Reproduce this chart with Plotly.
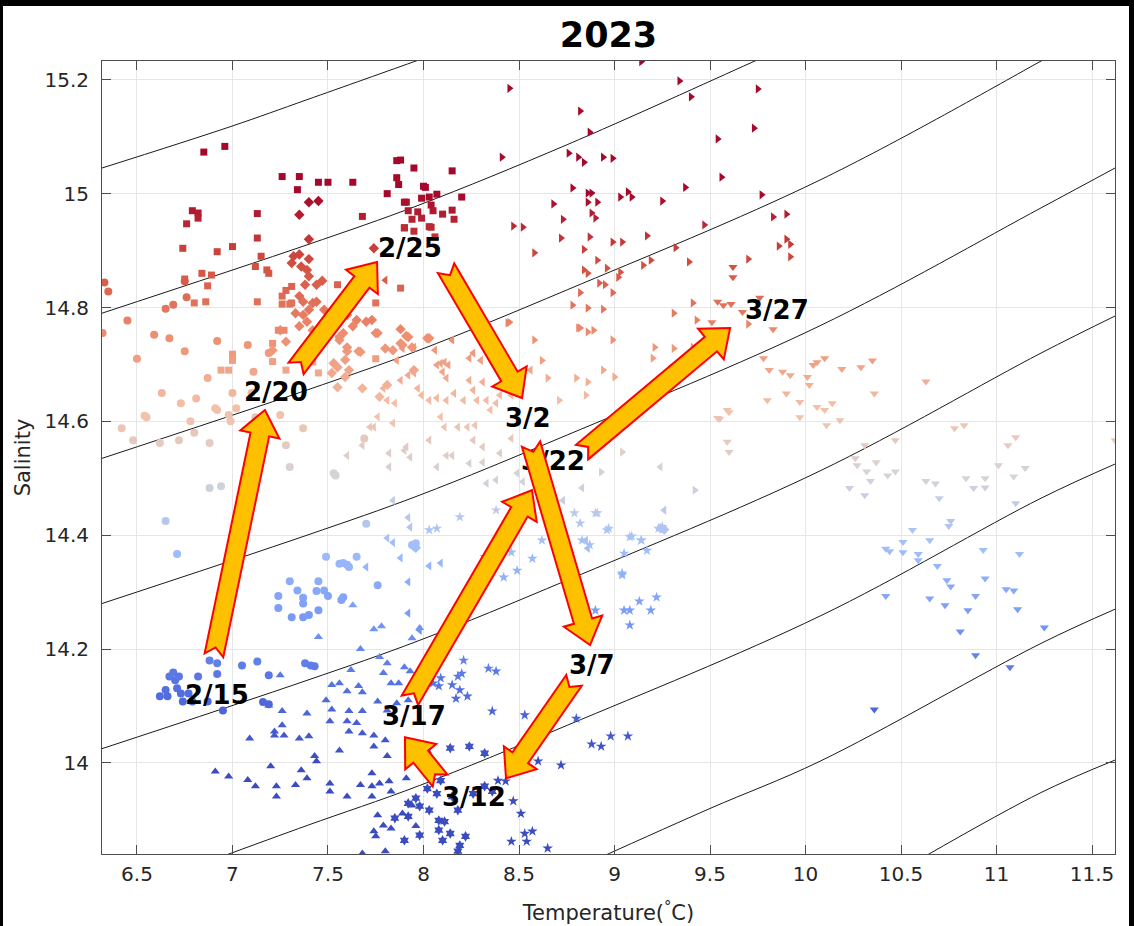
import plotly.graph_objects as go

# ---------------- axis ticks ----------------
x_ticks = [6.5, 7, 7.5, 8, 8.5, 9, 9.5, 10, 10.5, 11, 11.5]
x_ticktext = ["6.5", "7", "7.5", "8", "8.5", "9", "9.5", "10", "10.5", "11", "11.5"]
y_ticks = [14.0, 14.2, 14.4, 14.6, 14.8, 15.0, 15.2]
y_ticktext = ["14", "14.2", "14.4", "14.6", "14.8", "15", "15.2"]

# ---------------- isopycnal curves ----------------
c1_T = [6.317, 6.992, 7.39, 7.977, 8.2]
c1_S = [15.045, 15.118, 15.165, 15.235, 15.262]
c2_T = [6.317, 7.39, 7.977, 8.752, 9.715, 9.9]
c2_S = [14.79, 14.91, 14.98, 15.086, 15.23, 15.258]
c3_T = [6.317, 7.39, 7.977, 8.752, 10.076, 11.233, 11.4]
c3_S = [14.535, 14.655, 14.725, 14.831, 15.024, 15.233, 15.265]
c4_T = [6.317, 7.39, 7.977, 8.752, 10.076, 11.233, 11.62]
c4_S = [14.28, 14.40, 14.47, 14.576, 14.768, 14.975, 15.045]
c5_T = [6.317, 7.39, 7.977, 8.752, 10.076, 11.233, 11.62]
c5_S = [14.025, 14.145, 14.215, 14.321, 14.513, 14.72, 14.785]
c6_T = [6.9, 7.39, 7.977, 8.752, 10.076, 11.233, 11.62]
c6_S = [13.83, 13.89, 13.96, 14.066, 14.258, 14.465, 14.525]
c7_T = [8.9, 9.5, 10.076, 11.233, 11.62]
c7_S = [13.83, 13.92, 14.003, 14.21, 14.27]
c8_T = [10.62, 11.233, 11.62]
c8_S = [13.835, 13.948, 14.005]
curves = [(c1_T, c1_S), (c2_T, c2_S), (c3_T, c3_S), (c4_T, c4_S),
          (c5_T, c5_S), (c6_T, c6_S), (c7_T, c7_S), (c8_T, c8_S)]

# ---------------- scatter groups (T, S) ----------------
circle_pts = [
    (6.33, 14.844), (6.35, 14.828), (6.45, 14.777), (6.32, 14.755), (6.65, 14.798), (6.69, 14.805),
    (6.76, 14.818), (6.75, 14.846), (6.59, 14.752), (6.67, 14.746), (6.75, 14.723), (6.92, 14.741),
    (6.50, 14.71), (6.63, 14.65), (6.73, 14.632), (6.81, 14.64), (6.54, 14.61), (6.87, 14.676),
    (6.91, 14.623), (7.08, 14.734), (7.11, 14.687), (7.19, 14.72), (7.00, 14.65), (6.98, 14.611),
    (7.10, 14.65), (7.25, 14.611), (7.02, 14.623), (7.12, 14.607), (6.78, 14.60),
    (6.42, 14.588), (6.48, 14.567), (6.55, 14.607), (6.62, 14.562), (6.72, 14.567), (6.88, 14.562),
    (6.80, 14.58), (6.92, 14.62), (6.99, 14.60), (7.28, 14.558), (7.37, 14.588),
    (6.88, 14.483), (6.94, 14.486), (7.30, 14.52), (7.54, 14.505), (6.65, 14.425), (6.71, 14.367),
    (7.53, 14.509), (7.69, 14.57),
    (7.30, 14.319), (7.24, 14.293), (7.24, 14.272), (7.34, 14.303), (7.37, 14.29), (7.37, 14.28),
    (7.45, 14.319), (7.44, 14.302), (7.48, 14.303), (7.50, 14.293), (7.31, 14.256), (7.37, 14.256),
    (7.40, 14.26), (7.45, 14.268), (7.57, 14.286), (7.58, 14.291), (7.49, 14.362), (7.58, 14.351),
    (7.61, 14.344), (7.65, 14.362), (7.70, 14.42), (7.76, 14.312), (7.94, 14.383), (7.96, 14.386),
    (7.56, 14.35), (7.60, 14.348),
    (6.62, 14.117), (6.65, 14.128), (6.66, 14.117), (6.67, 14.152), (6.69, 14.159), (6.70, 14.145),
    (6.72, 14.152), (6.71, 14.131), (6.73, 14.122), (6.74, 14.108), (6.77, 14.122), (6.82, 14.152),
    (6.79, 14.108), (6.88, 14.180), (6.92, 14.175), (6.92, 14.156), (6.87, 14.108), (6.95, 14.092),
    (7.05, 14.171), (7.13, 14.178), (7.19, 14.154), (7.16, 14.107), (7.19, 14.103), (7.38, 14.175),
    (7.41, 14.171), (7.43, 14.17),
]
square_pts = [
    (6.85, 15.073), (6.96, 15.083), (7.26, 15.03), (7.35, 15.03), (7.34, 15.007), (7.45, 15.02),
    (7.50, 15.02), (7.63, 15.02), (7.86, 15.058), (7.95, 15.045), (7.86, 15.028), (7.87, 15.016),
    (7.81, 15.00), (7.90, 14.985), (8.00, 15.013), (7.68, 14.96), (7.92, 14.97), (7.94, 14.955),
    (7.90, 14.94), (7.95, 14.934), (8.03, 14.942), (8.04, 14.98), (7.13, 14.965), (6.79, 14.97),
    (6.82, 14.966), (6.82, 14.957), (6.76, 14.947), (6.74, 14.904), (6.92, 14.898), (7.00, 14.907),
    (7.13, 14.922), (7.15, 14.89), (6.75, 14.85), (6.84, 14.86), (6.89, 14.857), (6.87, 14.838),
    (6.80, 14.808), (6.86, 14.81), (7.13, 14.81), (7.12, 14.872), (7.18, 14.866), (7.19, 14.86),
    (7.26, 14.82), (7.28, 14.83), (7.31, 14.837), (7.31, 14.808), (7.26, 14.806), (7.30, 14.806),
    (7.24, 14.76), (7.27, 14.76), (7.21, 14.737), (7.21, 14.705), (7.28, 14.69), (6.98, 14.69),
    (6.94, 14.69), (7.00, 14.707), (7.00, 14.718), (7.75, 14.808), (7.75, 14.71), (7.55, 14.84),
    (7.45, 14.685), (7.42, 14.704),
    (7.88, 15.059), (8.15, 15.04), (8.01, 15.011), (7.99, 14.992), (8.03, 14.994), (8.07, 14.999),
    (7.91, 14.985), (8.20, 14.994), (8.05, 14.97), (8.10, 14.964), (8.15, 14.971), (7.97, 14.968),
    (7.99, 14.957), (8.16, 14.955), (7.90, 14.94), (8.04, 14.941), (8.06, 14.924), (7.88, 14.834),
]
diamond_pts = [
    (7.40, 14.985), (7.45, 14.987), (7.35, 14.963), (7.40, 14.92), (7.32, 14.89), (7.35, 14.893),
    (7.31, 14.878), (7.36, 14.872), (7.40, 14.885), (7.39, 14.866), (7.40, 14.855), (7.38, 14.84),
    (7.44, 14.84), (7.47, 14.847), (7.35, 14.82), (7.37, 14.81), (7.40, 14.796), (7.42, 14.808),
    (7.44, 14.81), (7.33, 14.79), (7.37, 14.787), (7.39, 14.775), (7.35, 14.767), (7.42, 14.76),
    (7.48, 14.796), (7.52, 14.778), (7.60, 14.787), (7.65, 14.778), (7.70, 14.775), (7.73, 14.778),
    (7.63, 14.767), (7.58, 14.755), (7.56, 14.743), (7.75, 14.755), (7.88, 14.762), (7.91, 14.75),
    (7.88, 14.737), (7.94, 14.73), (7.66, 14.723), (7.60, 14.723), (7.59, 14.708), (7.53, 14.702),
    (7.80, 14.728), (7.84, 14.725), (7.95, 14.69), (8.02, 14.746), (7.50, 14.758), (7.46, 14.737),
    (7.25, 14.76), (7.21, 14.725), (7.28, 14.74), (7.74, 14.904), (7.52, 14.685), (7.55, 14.66),
    (7.68, 14.658), (7.76, 14.755), (7.92, 14.748), (8.03, 14.746), (7.56, 14.748), (7.60, 14.73),
    (7.67, 14.722), (7.55, 14.695), (7.61, 14.69), (7.59, 14.678), (7.77, 14.643), (7.81, 14.664),
    (7.89, 14.734), (7.95, 14.38), (7.96, 14.378), (9.24, 14.412), (9.26, 14.41),
]
lefttri_pts = [
    (7.60, 14.54), (7.68, 14.558), (7.74, 14.59), (7.82, 14.544), (7.82, 14.52), (7.90, 14.549),
    (7.93, 14.537), (8.07, 14.52), (8.12, 14.54), (8.15, 14.54), (8.24, 14.526), (8.31, 14.528),
    (8.33, 14.491), (8.38, 14.497), (8.40, 14.544), (8.49, 14.509), (8.52, 14.494), (8.54, 14.461),
    (8.83, 14.483), (9.24, 14.52),
    (8.07, 14.699), (8.09, 14.702), (8.11, 14.704), (8.13, 14.699), (8.10, 14.687), (8.12, 14.676),
    (7.97, 14.658), (7.99, 14.646), (8.03, 14.637), (8.07, 14.641), (8.12, 14.637), (8.16, 14.649),
    (8.21, 14.637), (8.24, 14.672), (8.26, 14.655), (8.28, 14.637), (8.31, 14.669), (8.26, 14.72),
    (8.24, 14.711), (8.30, 14.707), (7.86, 14.707), (7.89, 14.728), (7.95, 14.73), (8.06, 14.725),
    (8.15, 14.743), (7.92, 14.681), (7.95, 14.685), (7.88, 14.672), (7.79, 14.658), (7.81, 14.637),
    (7.85, 14.632), (7.76, 14.608), (7.84, 14.597), (8.09, 14.608), (8.11, 14.59), (8.18, 14.59),
    (8.23, 14.59), (8.27, 14.593), (8.35, 14.62), (8.33, 14.637), (8.38, 14.632), (8.40, 14.646),
    (8.26, 14.567), (8.31, 14.555), (8.03, 14.567), (7.91, 14.555), (7.72, 14.59), (8.46, 14.57),
    (8.46, 14.646), (8.56, 14.69), (7.80, 14.848),
    (7.84, 14.387), (7.70, 14.344), (8.03, 14.346), (8.09, 14.351), (7.92, 14.318), (7.92, 14.431),
    (7.84, 14.461), (7.93, 14.414), (8.46, 14.423), (8.73, 14.461), (8.85, 14.391), (8.86, 14.377),
    (9.26, 14.444), (7.92, 14.263), (7.98, 14.233), (7.81, 14.395), (7.88, 14.36),
]
star_pts = [
    (8.51, 13.911), (8.46, 13.862), (8.53, 13.876), (8.54, 13.862), (8.57, 13.88), (8.65, 13.85),
    (8.39, 13.969), (8.43, 13.968), (8.47, 13.933), (8.60, 14.003), (8.72, 13.996), (8.53, 14.084),
    (8.36, 14.091), (8.34, 14.166), (8.38, 14.161), (8.20, 14.157), (8.18, 14.152), (8.15, 14.137),
    (8.19, 14.128), (8.21, 14.18), (8.23, 14.117), (8.17, 14.113), (8.08, 14.135), (8.05, 14.14),
    (8.09, 14.149), (8.80, 14.078), (8.88, 14.033), (8.93, 14.029), (8.98, 14.047), (9.07, 14.047),
    (8.79, 14.439), (8.83, 14.391), (8.87, 14.383), (8.90, 14.268), (9.05, 14.268), (9.08, 14.268),
    (9.13, 14.284), (9.19, 14.268), (9.08, 14.242), (9.22, 14.291), (9.04, 14.33), (9.05, 14.368),
    (9.09, 14.398), (9.14, 14.391), (9.17, 14.373), (9.23, 14.412), (9.25, 14.415), (8.97, 14.412),
    (8.90, 14.439), (8.82, 14.421), (8.77, 14.368), (8.07, 14.412), (8.03, 14.409), (8.19, 14.432),
    (8.38, 14.444), (8.46, 14.37), (8.38, 14.377), (8.32, 14.362), (8.42, 14.326), (8.49, 14.338),
    (8.57, 14.359), (8.62, 14.391), (8.71, 14.426), (8.91, 14.439), (8.96, 14.409), (9.04, 14.333),
    (9.08, 14.397), (9.14, 14.391),
]
hexa_pts = [
    (8.02, 14.022), (8.14, 14.026), (8.24, 14.029), (8.32, 14.017), (8.07, 13.946), (8.09, 13.969),
    (8.02, 13.955), (7.96, 13.938), (7.98, 13.924), (7.92, 13.929), (8.08, 13.882), (8.08, 13.899),
    (8.15, 13.941), (8.18, 13.917), (8.14, 13.876), (8.19, 13.855), (8.22, 13.871), (8.26, 13.946),
    (8.32, 13.959), (8.36, 13.95), (8.11, 13.897), (8.10, 13.864), (8.18, 13.845), (7.92, 13.906),
    (8.03, 13.917), (7.90, 13.864), (7.98, 13.873), (7.85, 13.903),
]
uptri_pts = [
    (7.45, 14.221), (7.63, 14.277), (7.67, 14.2), (7.74, 14.235), (7.78, 14.24), (7.77, 14.186),
    (7.81, 14.175), (7.62, 14.163), (7.52, 14.137), (7.56, 14.14), (7.60, 14.126), (7.66, 14.135),
    (7.68, 14.124), (7.25, 14.154), (7.19, 14.101), (7.26, 14.091), (7.39, 14.087), (7.49, 14.11),
    (7.52, 14.094), (7.61, 14.091), (7.68, 14.091), (7.76, 14.108), (7.79, 14.158), (7.83, 14.14),
    (7.87, 14.14), (7.90, 14.168), (7.93, 14.161), (7.81, 14.092), (7.86, 14.105), (7.92, 14.11),
    (7.09, 14.043), (7.22, 14.055), (7.22, 14.048), (7.26, 14.066), (7.27, 14.048), (7.35, 14.043),
    (7.40, 14.047), (7.51, 14.073), (7.60, 14.073), (7.65, 14.07), (7.68, 14.052), (7.61, 14.055),
    (7.74, 14.048), (7.80, 14.04), (7.74, 14.029), (7.43, 14.012), (7.44, 14.003), (7.56, 14.022),
    (7.81, 14.012), (7.36, 13.987), (7.39, 13.973), (7.51, 13.964), (7.51, 13.95), (7.60, 13.941),
    (7.67, 13.961), (7.73, 13.982), (7.73, 13.959), (7.73, 13.941), (7.77, 13.964), (7.82, 13.968),
    (7.83, 13.95), (7.91, 13.973), (6.91, 13.985), (6.98, 13.976), (7.08, 13.97), (7.12, 13.959),
    (7.20, 13.994), (7.23, 13.959), (7.23, 13.941), (7.33, 13.961), (7.76, 13.908), (7.79, 13.89),
    (7.74, 13.88), (7.75, 13.871), (7.83, 13.885), (7.80, 13.845), (7.68, 13.841), (7.96, 13.889),
    (7.89, 13.911), (7.94, 13.925), (7.98, 14.237), (7.94, 14.219),
]
righttri_pts = [
    (9.14, 15.232), (8.45, 15.185), (9.34, 15.198), (9.40, 15.17), (9.75, 15.184), (8.82, 15.145),
    (8.87, 15.108), (9.73, 15.115), (9.54, 15.096), (9.56, 15.029), (8.41, 15.064), (8.76, 15.071),
    (8.81, 15.064), (8.84, 15.055), (8.94, 15.064), (8.99, 15.062), (8.78, 15.01), (8.86, 15.001),
    (8.88, 15.001), (8.86, 14.985), (8.91, 14.985), (8.68, 14.982), (9.03, 14.994), (9.07, 15.003),
    (9.09, 14.994), (9.25, 14.987), (9.37, 15.011), (9.77, 14.998), (8.88, 14.966), (8.90, 14.957),
    (8.73, 14.955), (8.47, 14.943), (8.52, 14.941), (8.87, 14.924), (8.72, 14.922), (8.99, 14.915),
    (9.04, 14.915), (9.17, 14.926), (9.47, 14.945), (9.83, 14.959), (9.90, 14.964), (9.90, 14.92),
    (9.92, 14.911), (9.86, 14.908), (9.92, 14.889), (9.32, 14.905), (9.39, 14.88), (9.70, 14.885),
    (8.58, 14.896), (8.84, 14.902), (8.91, 14.883), (8.96, 14.869), (8.84, 14.866), (8.86, 14.86),
    (9.03, 14.862), (9.02, 14.853), (8.92, 14.843), (8.95, 14.84), (8.99, 14.826), (9.15, 14.874),
    (9.19, 14.883), (8.82, 14.826), (8.78, 14.804), (8.86, 14.799), (8.94, 14.797), (9.41, 14.808),
    (9.31, 14.79), (8.45, 14.774), (8.82, 14.764), (8.89, 14.76), (8.58, 14.743), (8.99, 14.743),
    (9.21, 14.73), (9.31, 14.728), (9.70, 14.771), (8.81, 14.764), (8.86, 14.757), (8.62, 14.707),
    (8.65, 14.676), (8.71, 14.637), (8.80, 14.676), (8.86, 14.669), (8.85, 14.646), (8.94, 14.69),
    (9.00, 14.678), (9.20, 14.711), (9.43, 14.778), (9.41, 14.73), (8.44, 14.773), (9.42, 14.479),
    (9.04, 14.546), (8.93, 14.511),
]
downtri_pts = [
    (9.62, 14.871), (9.62, 14.853), (9.54, 14.81), (9.57, 14.804), (9.61, 14.806), (9.76, 14.817),
    (9.83, 14.762), (9.51, 14.774), (9.67, 14.792),
    (10.06, 14.704), (10.10, 14.711), (10.04, 14.699), (10.19, 14.692), (10.29, 14.695), (10.35, 14.707),
    (10.36, 14.649), (10.63, 14.67), (9.78, 14.711), (9.81, 14.69), (9.88, 14.687), (9.92, 14.681),
    (10.01, 14.678), (10.02, 14.664), (9.80, 14.637), (9.90, 14.649), (9.97, 14.634), (10.06, 14.625),
    (10.10, 14.62), (10.14, 14.632), (9.97, 14.607), (10.11, 14.593), (10.18, 14.602), (10.78, 14.588),
    (10.83, 14.593), (11.10, 14.572), (11.06, 14.558), (11.62, 14.567), (9.60, 14.616), (9.55, 14.604),
    (9.59, 14.62), (9.54, 14.606), (9.59, 14.564), (9.60, 14.546), (10.31, 14.558), (10.47, 14.567),
    (10.37, 14.528), (10.26, 14.535),
    (10.23, 14.483), (10.31, 14.47), (10.32, 14.512), (10.34, 14.495), (10.43, 14.505), (10.47, 14.512),
    (10.27, 14.523), (10.63, 14.495), (10.68, 14.491), (10.70, 14.465), (10.84, 14.50), (10.88, 14.483),
    (10.94, 14.50), (10.94, 14.484), (11.09, 14.503), (11.15, 14.518), (11.10, 14.456), (11.01, 14.523),
    (10.56, 14.409), (10.65, 14.391), (10.76, 14.425), (10.75, 14.416), (10.51, 14.388), (10.42, 14.376),
    (10.44, 14.372), (10.51, 14.37), (10.59, 14.367), (10.59, 14.356), (10.69, 14.346), (10.74, 14.321),
    (10.76, 14.31), (10.73, 14.277), (10.65, 14.289), (10.89, 14.293), (10.85, 14.268), (10.81, 14.231),
    (10.89, 14.189), (10.93, 14.374), (10.94, 14.324), (11.05, 14.305), (11.09, 14.303), (11.11, 14.27),
    (11.12, 14.367), (11.25, 14.238), (11.07, 14.168), (10.42, 14.293), (10.36, 14.094),
]

# ---------------- date labels and arrows ----------------
label_text = ["2/15", "2/20", "2/25", "3/2", "3/7", "3/12", "3/17", "3/22", "3/27"]
label_T = [6.919, 7.228, 7.930, 8.547, 8.882, 8.265, 7.951, 8.678, 9.851]
label_S = [14.119, 14.651, 14.904, 14.606, 14.172, 13.941, 14.082, 14.526, 14.795]

arrow_tail_T = [6.903, 7.333, 8.118, 8.563, 8.788, 8.087, 7.929, 8.830]
arrow_tail_S = [14.189, 14.693, 14.869, 14.560, 14.145, 13.969, 14.110, 14.546]
arrow_tip_T = [7.170, 7.757, 8.516, 8.872, 8.432, 7.903, 8.568, 9.605]
arrow_tip_S = [14.620, 14.880, 14.641, 14.207, 13.973, 14.045, 14.479, 14.764]

# ---------------- layout geometry ----------------
W, H = 1134, 926
L, R, T, B = 102, 1115, 61, 854
X0, X1 = 6.317, 11.62
Y0, Y1 = 13.84, 15.233

coolwarm = [
    [0.0, "rgb(59,76,192)"], [0.125, "rgb(82,110,224)"], [0.25, "rgb(118,152,246)"],
    [0.375, "rgb(160,190,252)"], [0.5, "rgb(212,212,216)"], [0.625, "rgb(244,192,168)"],
    [0.75, "rgb(238,142,112)"], [0.875, "rgb(210,80,64)"], [1.0, "rgb(165,8,42)"],
]

fig = go.Figure()

for cT, cS in curves:
    fig.add_trace(go.Scatter(x=cT, y=cS, mode="lines", line=dict(color="#1a1a1a", width=1, shape="spline"),
                             hoverinfo="skip", showlegend=False))

groups = [
    (circle_pts, "circle", 8),
    (square_pts, "square", 7),
    (diamond_pts, "diamond", 8),
    (lefttri_pts, "triangle-left", 8),
    (righttri_pts, "triangle-right", 8),
    (downtri_pts, "triangle-down", 8),
    (uptri_pts, "triangle-up", 8),
    (star_pts, "star", 8),
    (hexa_pts, "hexagram", 8),
]
for pts, sym, sz in groups:
    xs = [p[0] for p in pts]
    ys = [p[1] for p in pts]
    fig.add_trace(go.Scatter(
        x=xs, y=ys, mode="markers",
        marker=dict(symbol=sym, size=sz, color=ys, colorscale=coolwarm, cmin=14.0, cmax=15.0,
                    line=dict(width=0)),
        showlegend=False, hoverinfo="skip"))

# 3/22 label sits under the arrows (text trace), others are annotations on top
idx22 = label_text.index("3/22")
fig.add_trace(go.Scatter(x=[label_T[idx22]], y=[label_S[idx22]], mode="text",
                         text=["<b>" + label_text[idx22] + "</b>"],
                         textfont=dict(family="DejaVu Sans", size=26, color="black"),
                         showlegend=False, hoverinfo="skip"))


def d2p(x, y):
    return (L + (x - X0) / (X1 - X0) * (R - L), B - (y - Y0) / (Y1 - Y0) * (B - T))


def p2d(px, py):
    return (X0 + (px - L) / (R - L) * (X1 - X0), Y0 + (B - py) / (B - T) * (Y1 - Y0))


def block_arrow(tT, tS, hT, hS, w=9.5, hw=20.0, hl=25.0, nd=8.0):
    ax, ay = d2p(tT, tS)
    bx, by = d2p(hT, hS)
    dx, dy = bx - ax, by - ay
    ln = (dx * dx + dy * dy) ** 0.5
    ux, uy = dx / ln, dy / ln
    nx, ny = -uy, ux
    baseX, baseY = bx - hl * ux, by - hl * uy
    pts = [
        (ax + w * nx, ay + w * ny),
        (baseX + w * nx, baseY + w * ny),
        (baseX + hw * nx, baseY + hw * ny),
        (bx, by),
        (baseX - hw * nx, baseY - hw * ny),
        (baseX - w * nx, baseY - w * ny),
        (ax - w * nx, ay - w * ny),
        (ax + nd * ux, ay + nd * uy),
    ]
    dpts = [p2d(px, py) for px, py in pts]
    return "M " + " L ".join(f"{x:.5f},{y:.5f}" for x, y in dpts) + " Z"


shapes = []
for i in range(len(arrow_tail_T)):
    shapes.append(dict(type="path", xref="x", yref="y",
                       path=block_arrow(arrow_tail_T[i], arrow_tail_S[i], arrow_tip_T[i], arrow_tip_S[i]),
                       fillcolor="#FFC000", line=dict(color="#FF0000", width=2), layer="above"))


def pxp(px):
    return (px - L) / (R - L)


def pyp(py):
    return (B - py) / (B - T)


# black frame strips (top, left, right)
for (x0, y0, x1, y1) in [(0, 0, W, 6), (0, 0, 3, H), (1129, 0, W, H)]:
    shapes.append(dict(type="rect", xref="paper", yref="paper",
                       x0=pxp(x0), x1=pxp(x1), y0=pyp(y1), y1=pyp(y0),
                       fillcolor="black", line=dict(width=0), layer="above"))

annotations = []
for i, txt in enumerate(label_text):
    if i == idx22:
        continue
    annotations.append(dict(x=label_T[i], y=label_S[i], xref="x", yref="y", text="<b>" + txt + "</b>",
                            showarrow=False, font=dict(family="DejaVu Sans", size=26, color="black"),
                            xanchor="center", yanchor="middle"))

axis_common = dict(ticks="inside", ticklen=9, tickcolor="#4d4d4d", tickwidth=1,
                   showline=True, linecolor="#4d4d4d", linewidth=1, mirror="ticks",
                   showgrid=True, gridcolor="#e6e6e6", gridwidth=1, zeroline=False,
                   tickfont=dict(family="DejaVu Sans", size=20, color="#262626"),
                   automargin=False)

fig.update_layout(
    width=W, height=H,
    margin=dict(l=L, r=W - R, t=T, b=H - B, pad=0),
    paper_bgcolor="white", plot_bgcolor="white",
    title=dict(text="<b>2023</b>", x=0.5, xref="paper", xanchor="center",
               y=1 - 35 / H, yref="container", yanchor="middle",
               font=dict(family="DejaVu Sans", size=35, color="black")),
    xaxis=dict(range=[X0, X1], tickvals=x_ticks, ticktext=x_ticktext, ticklabelstandoff=2,
               title=dict(text="Temperature(<sup>°</sup>C)", standoff=20,
                          font=dict(family="DejaVu Sans", size=21, color="#262626")),
               **axis_common),
    yaxis=dict(range=[Y0, Y1], tickvals=y_ticks, ticktext=y_ticktext, ticklabelstandoff=8,
               title=dict(text="Salinity", standoff=8,
                          font=dict(family="DejaVu Sans", size=21, color="#262626")),
               **axis_common),
    shapes=shapes,
    annotations=annotations,
    showlegend=False,
)

fig.write_html("out.html")
